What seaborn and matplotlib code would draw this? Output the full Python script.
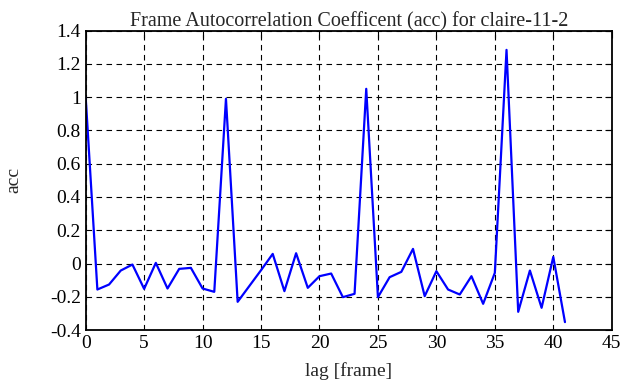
import numpy as np
import pandas as pd
import matplotlib
matplotlib.use("Agg")
import matplotlib.pyplot as plt
import seaborn as sns

# lag values and autocorrelation
lags = list(range(42))
acc = [1.0, -0.156, -0.126, -0.042, -0.006, -0.152, 0.004, -0.15, -0.032, -0.026,
       -0.15, -0.17, 0.99, -0.23, -0.135, -0.04, 0.058, -0.166, 0.062, -0.146,
       -0.076, -0.06, -0.202, -0.182, 1.05, -0.202, -0.082, -0.05, 0.088, -0.196,
       -0.046, -0.156, -0.186, -0.076, -0.242, -0.056, 1.284, -0.29, -0.042, -0.266,
       0.04, -0.352]
xticks = [0, 5, 10, 15, 20, 25, 30, 35, 40, 45]
yticks = [-0.4, -0.2, 0, 0.2, 0.4, 0.6, 0.8, 1, 1.2, 1.4]
yticklabels = ["-0.4", "-0.2", "0", "0.2", "0.4", "0.6", "0.8", "1", "1.2", "1.4"]

df = pd.DataFrame({"lag": lags, "acc": acc})

sns.set_style("white")
plt.rcParams["font.family"] = ["Liberation Serif", "DejaVu Serif"]
plt.rcParams["font.size"] = 14

fig = plt.figure(figsize=(6.3, 3.87), dpi=100)
ax = fig.add_axes([0.136, 0.147, 0.835, 0.774])

sns.lineplot(data=df, x="lag", y="acc", color="#0000ff", linewidth=1.6, ax=ax)

ax.set_xlim(0, 45)
ax.set_ylim(-0.4, 1.4)
ax.set_xticks(xticks)
ax.set_yticks(yticks)
ax.set_yticklabels(yticklabels)
ax.grid(True, color="black", linestyle=(0, (5, 4)), linewidth=0.8)
ax.tick_params(direction="in", length=5, top=True, right=True, labelsize=14,
               colors="black")
for s in ax.spines.values():
    s.set_color("black")
    s.set_linewidth(1.3)

ax.set_title("Frame Autocorrelation Coefficent (acc) for claire-11-2", fontsize=14.5, pad=3)
ax.set_xlabel("lag [frame]", fontsize=14, labelpad=7)
ax.set_ylabel("acc", fontsize=14, labelpad=20)

plt.savefig("out.png", dpi=100)
